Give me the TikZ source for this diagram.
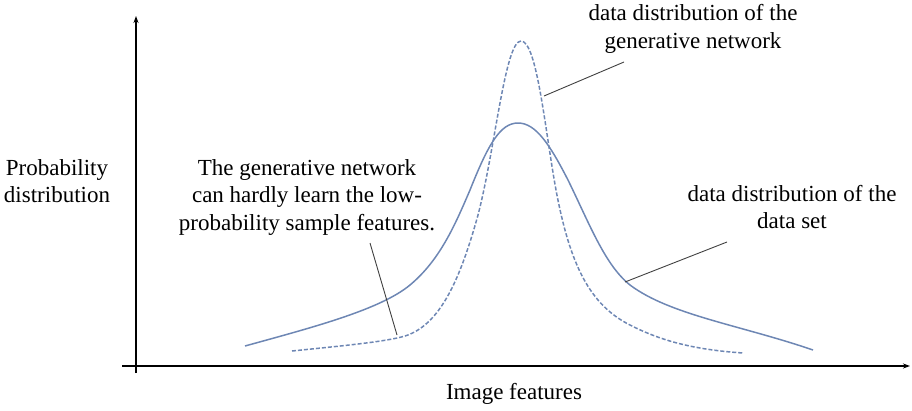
\documentclass[tikz,border=0pt]{standalone}
\usepackage{fontspec}
\setmainfont{Liberation Serif}
\newfontfamily\lblfont{Liberation Serif}
\usetikzlibrary{arrows.meta}
\definecolor{curveblue}{RGB}{110,135,180}
\begin{document}
\begin{tikzpicture}[x=1pt,y=-1pt,
  lbl/.style={font=\lblfont\fontsize{23}{27.5}\selectfont, align=center, inner sep=0pt},
  axis/.style={line width=1.6pt, black},
  dist/.style={curveblue, line width=1.5pt},
  gen/.style={curveblue, line width=1.5pt, dash pattern=on 4pt off 2pt},
  leader/.style={line width=0.9pt, black!75}]
\useasboundingbox (0,0) rectangle (912,410);
% axes
\coordinate (yb) at (136,373);
\coordinate (yt) at (136,16);
\coordinate (xl) at (122,366);
\coordinate (xr) at (910,366);
\draw[axis,-{Stealth[length=7pt,width=5pt]}] (yb) -- (yt);
\draw[axis,-{Stealth[length=7pt,width=5pt]}] (xl) -- (xr);
% data set distribution (solid)
\draw[dist] (245,346) .. controls (310,328) and (380,310) .. (410,285)
  .. controls (440,260) and (455,225) .. (470,190)
  .. controls (488,145) and (500,123) .. (518,123)
  .. controls (536,123) and (550,145) .. (568,180)
  .. controls (590,225) and (605,265) .. (630,285)
  .. controls (670,315) and (740,325) .. (813,350);
% generative distribution (dashed)
\draw[gen] (292,351) .. controls (340,346) and (385,342) .. (405,336)
  .. controls (440,325) and (460,280) .. (478,215)
  .. controls (495,150) and (505,41) .. (521,41)
  .. controls (537,41) and (545,130) .. (556,190)
  .. controls (570,265) and (590,305) .. (630,325)
  .. controls (665,343) and (700,350) .. (743,353);
% labels
\node[lbl] (ylab) at (57,181) {Probability\\distribution};
\node[lbl] (xlab) at (514,394) {Image features};
\node[lbl] (genlab) at (693,29) {data distribution of the\\generative network};
\node[lbl] (setlab) at (792,207) {data distribution of the\\data set};
\node[lbl] (lowlab) at (307,197) {The generative network\\can hardly learn the low-\\probability sample features.};
% leaders
\coordinate (genA) at (624,62);
\coordinate (genB) at (544,96);
\coordinate (setA) at (727,242);
\coordinate (setB) at (625,282);
\coordinate (lowA) at (370,243);
\coordinate (lowB) at (397,335);
\draw[leader] (genA) -- (genB);
\draw[leader] (setA) -- (setB);
\draw[leader] (lowA) -- (lowB);
\end{tikzpicture}
\end{document}
